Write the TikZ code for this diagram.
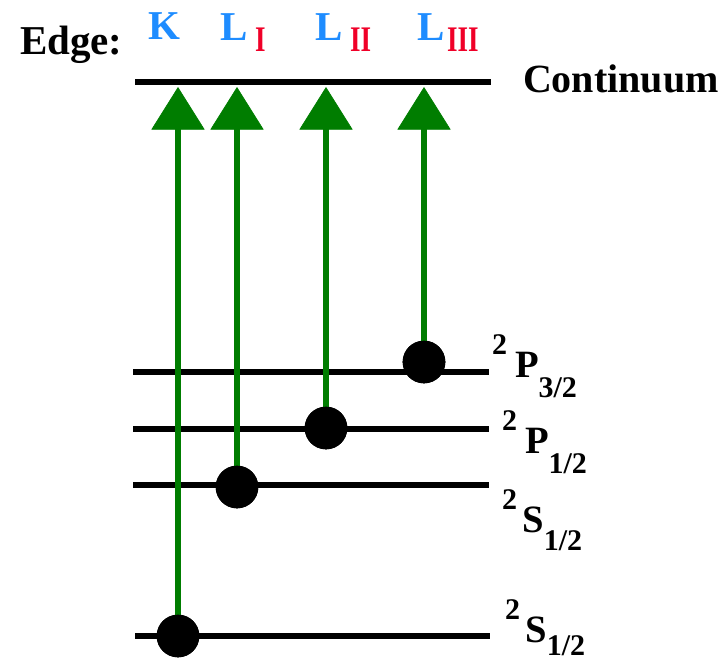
\documentclass[tikz,border=0pt]{standalone}
\usepackage{fontspec}
\setmainfont{Liberation Serif}
\usetikzlibrary{arrows.meta}
\definecolor{edgeblue}{RGB}{30,140,255}
\definecolor{edgered}{RGB}{240,0,40}
\definecolor{arrgreen}{RGB}{0,125,0}
\newcommand\fsz[1]{\fontsize{#1}{#1}\selectfont}
\newcommand\lvlab[5]{{\fsz{22.5pt}\raisebox{17.25pt}{#1}}\kern#4{\fsz{29pt}#2}{\fsz{22.5pt}\raisebox{-#5}{#3}}}
\newcommand\romsub[1]{\scalebox{0.75}[1]{#1}}
\begin{document}
\begin{tikzpicture}[x=0.75pt,y=-0.75pt,
  every node/.style={inner sep=0pt,outer sep=0pt},
  level/.style={line width=4pt},
  exc/.style={arrgreen,line width=4.5pt,-{Triangle[width=40pt,length=32pt,line width=0.5pt]}},
  dot/.style={circle,fill=black,minimum size=32pt},
  lab/.style={anchor=base west,font=\bfseries},
  edgelab/.style={anchor=base west,font=\fsz{30.75pt}\bfseries,text=edgeblue},
  sublab/.style={anchor=base west,font=\fsz{27pt}\bfseries,text=edgered}]
\useasboundingbox (0,0) rectangle (728,663);
% levels
\coordinate (c0) at (135,82);  \coordinate (c1) at (491,82);
\coordinate (p3a) at (133,372); \coordinate (p3b) at (489,372);
\coordinate (p1a) at (133,429); \coordinate (p1b) at (489,429);
\coordinate (s2a) at (133,485); \coordinate (s2b) at (489,485);
\coordinate (s1a) at (135,636); \coordinate (s1b) at (490,636);
\draw[level] (c0) -- (c1);
\draw[level] (p3a) -- (p3b);
\draw[level] (p1a) -- (p1b);
\draw[level] (s2a) -- (s2b);
\draw[level] (s1a) -- (s1b);
% dots
\node[dot] (dK) at (178,636) {};
\node[dot] (dL1) at (237,487) {};
\node[dot] (dL2) at (326,428) {};
\node[dot] (dL3) at (424,362) {};
% arrow tips
\coordinate (tK) at (178,87);
\coordinate (tL1) at (237,87);
\coordinate (tL2) at (326,87);
\coordinate (tL3) at (424,87);
\draw[exc] (dK.center) -- (tK);
\draw[exc] (dL1.center) -- (tL1);
\draw[exc] (dL2.center) -- (tL2);
\draw[exc] (dL3.center) -- (tL3);
\node[dot] at (dK) {};
\node[dot] at (dL1) {};
\node[dot] at (dL2) {};
\node[dot] at (dL3) {};
% top labels
\node[lab,font=\fsz{30.75pt}\bfseries] (edge) at (20,55) {Edge:};
\node[edgelab] (K) at (148,40) {K};
\node[edgelab] (L1) at (220,41) {L};
\node[sublab] (L1s) at (255,52) {\romsub{I}};
\node[edgelab] (L2) at (315,41) {L};
\node[sublab] (L2s) at (350,52) {\romsub{II}};
\node[edgelab] (L3) at (417,41) {L};
\node[sublab] (L3s) at (447,52) {\romsub{III}};
\node[lab,font=\fsz{30pt}\bfseries] (cont) at (523,93) {Continuum};
% level labels
\node[lab] (lp3) at (492,377) {\lvlab{2}{P}{3/2}{6pt}{15pt}};
\node[lab] (lp1) at (502,453) {\lvlab{2}{P}{1/2}{6pt}{15pt}};
\node[lab] (ls2) at (502,532) {\lvlab{2}{S}{1/2}{4pt}{14pt}};
\node[lab] (ls1) at (505,642) {\lvlab{2}{S}{1/2}{4pt}{10pt}};
\end{tikzpicture}
\end{document}
